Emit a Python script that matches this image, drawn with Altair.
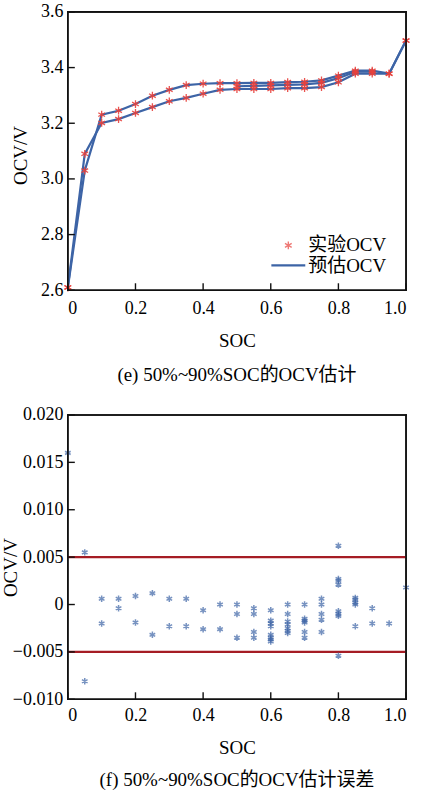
import altair as alt
import pandas as pd

# ---------------- data ----------------
soc = [0.0, 0.05, 0.1, 0.15, 0.2, 0.25, 0.3, 0.35, 0.4, 0.45, 0.5, 0.55, 0.6,
       0.65, 0.7, 0.75, 0.8, 0.85, 0.9, 0.95, 1.0]
ocv_upper = [2.61, 3.03, 3.231, 3.245, 3.269, 3.299, 3.320, 3.337, 3.342, 3.344,
             3.344, 3.345, 3.345, 3.348, 3.349, 3.354, 3.371, 3.389, 3.389, 3.378, 3.497]
ocv_lower = [2.61, 3.09, 3.201, 3.215, 3.237, 3.258, 3.279, 3.291, 3.306, 3.320,
             3.323, 3.323, 3.323, 3.326, 3.326, 3.330, 3.347, 3.378, 3.378, 3.378, 3.497]
soc_mid = [0.5, 0.55, 0.6, 0.65, 0.7, 0.75, 0.8, 0.85, 0.9]
ocv_mid = [3.333, 3.334, 3.336, 3.338, 3.340, 3.345, 3.362, 3.385, 3.385]

err_soc = [0.0,
           0.05, 0.05,
           0.1, 0.1,
           0.15, 0.15,
           0.2, 0.2,
           0.25, 0.25,
           0.3, 0.3,
           0.35, 0.35,
           0.4, 0.4,
           0.45, 0.45,
           0.5, 0.5, 0.5,
           0.55, 0.55, 0.55, 0.55,
           0.6, 0.6, 0.6, 0.6, 0.6, 0.6, 0.6, 0.6,
           0.65, 0.65, 0.65, 0.65, 0.65, 0.65, 0.65,
           0.7, 0.7, 0.7, 0.7, 0.7, 0.7,
           0.75, 0.75, 0.75, 0.75, 0.75,
           0.8, 0.8, 0.8, 0.8, 0.8, 0.8, 0.8, 0.8,
           0.85, 0.85, 0.85, 0.85, 0.85,
           0.9, 0.9,
           0.95,
           1.0]
err_val = [0.0160,
           0.0055, -0.0081,
           0.0006, -0.0020,
           0.0006, -0.0004,
           0.0009, -0.0019,
           0.0012, -0.0032,
           0.0006, -0.0023,
           0.0006, -0.0023,
           -0.0006, -0.0026,
           0.0000, -0.0026,
           0.0000, -0.0010, -0.0035,
           -0.0004, -0.0010, -0.0029, -0.0035,
           -0.0006, -0.0017, -0.0020, -0.0023, -0.0032, -0.0035, -0.0037, -0.0039,
           0.0000, -0.0010, -0.0018, -0.0021, -0.0025, -0.0028, -0.0030,
           0.0000, -0.0015, -0.0017, -0.0019, -0.0029, -0.0035,
           0.0006, 0.0000, -0.0010, -0.0016, -0.0029,
           0.0062, 0.0027, 0.0025, 0.0021, -0.0007, -0.0010, -0.0012, -0.0054,
           0.0007, 0.0005, 0.0002, 0.0000, -0.0023,
           -0.0004, -0.0020,
           -0.0020,
           0.0018]
err_limits = [0.005, -0.005]

x_ticks = [0.0, 0.2, 0.4, 0.6, 0.8, 1.0]
top_y_ticks = [2.6, 2.8, 3.0, 3.2, 3.4, 3.6]
bot_y_ticks = [-0.010, -0.005, 0.0, 0.005, 0.010, 0.015, 0.020]

# ---------------- style ----------------
FONT = "Times New Roman, Liberation Serif, Noto Sans CJK SC, serif"
RED = "#e8413c"
BLUE = "#3d64a6"
DARKRED = "#a51c24"
INK = "#111111"
STAR = "M0,-1L0,1M-0.87,-0.5L0.87,0.5M-0.87,0.5L0.87,-0.5"
W = 339
H1 = 279
H2 = 285
LBL = 18
TTL = 19
LW = 0.8  # half frame line thickness (px)

x_label_expr = "datum.value == 0 ? '0' : format(datum.value, '.1f')"


def frame_layers(h):
    """Plot frame drawn as four thin filled bars."""
    one = pd.DataFrame({"f": [0]})
    base = alt.Chart(one).mark_rect(color=INK)
    return [
        base.encode(x=alt.value(-LW), x2=alt.value(W + LW), y=alt.value(-LW), y2=alt.value(LW)),
        base.encode(x=alt.value(-LW), x2=alt.value(W + LW), y=alt.value(h - LW), y2=alt.value(h + LW)),
        base.encode(x=alt.value(-LW), x2=alt.value(LW), y=alt.value(-LW), y2=alt.value(h + LW)),
        base.encode(x=alt.value(W - LW), x2=alt.value(W + LW), y=alt.value(-LW), y2=alt.value(h + LW)),
    ]


def xtick_layer(xs, h):
    return alt.Chart(pd.DataFrame({"t": x_ticks})).mark_tick(
        orient="vertical", color=INK, thickness=1.4, size=7, opacity=1).encode(
        x=alt.X("t:Q", scale=xs), y=alt.value(h - 3.5))


def ytick_layer(ys, ticks):
    return alt.Chart(pd.DataFrame({"t": ticks})).mark_tick(
        orient="horizontal", color=INK, thickness=1.4, size=7, opacity=1).encode(
        y=alt.Y("t:Q", scale=ys), x=alt.value(3.5))


# ---------------- top panel ----------------
curves = pd.concat([
    pd.DataFrame({"soc": soc, "ocv": ocv_upper, "curve": "upper"}),
    pd.DataFrame({"soc": soc, "ocv": ocv_lower, "curve": "lower"}),
    pd.DataFrame({"soc": soc_mid, "ocv": ocv_mid, "curve": "mid"}),
])

xs_top = alt.Scale(domain=[0, 1], nice=False)
ys_top = alt.Scale(domain=[2.6, 3.6], nice=False)

x_top = alt.X("soc:Q", scale=xs_top,
              axis=alt.Axis(values=x_ticks, labelExpr=x_label_expr, title="SOC",
                            ticks=False, domain=False, grid=False, labelPadding=9,
                            titlePadding=14))
y_top = alt.Y("ocv:Q", scale=ys_top,
              axis=alt.Axis(values=top_y_ticks, format=".1f", title="OCV/V",
                            ticks=False, domain=False, grid=False, labelPadding=5,
                            titleX=-47, titleY=H1 / 2 + 4, titleAlign="center",
                            titleBaseline="middle", titleAngle=270))

lines = alt.Chart(curves).mark_line(color=BLUE, strokeWidth=2.2).encode(
    x=x_top, y=y_top, detail="curve:N", order="soc:Q")
stars = alt.Chart(curves).mark_point(shape=STAR, filled=False, color=RED,
                                     strokeWidth=1.3, size=60, opacity=0.9).encode(
    x=alt.X("soc:Q", scale=xs_top), y=alt.Y("ocv:Q", scale=ys_top))

leg_star = alt.Chart(pd.DataFrame({"label": ["实验OCV"]})).mark_point(
    shape=STAR, filled=False, color=RED, strokeWidth=1.4, size=60).encode(
    x=alt.value(221), y=alt.value(234))
leg_line = alt.Chart(pd.DataFrame({"label": ["预估OCV"]})).mark_rule(
    color=BLUE, strokeWidth=2.2).encode(x=alt.value(204), x2=alt.value(238), y=alt.value(254))
leg_t1 = alt.Chart(pd.DataFrame({"label": ["实验OCV"]})).mark_text(
    align="left", baseline="middle", font=FONT, fontSize=TTL, color="black").encode(
    x=alt.value(241), y=alt.value(234), text="label:N")
leg_t2 = alt.Chart(pd.DataFrame({"label": ["预估OCV"]})).mark_text(
    align="left", baseline="middle", font=FONT, fontSize=TTL, color="black").encode(
    x=alt.value(241), y=alt.value(255), text="label:N")

top = alt.layer(
    lines, stars,
    xtick_layer(xs_top, H1),
    ytick_layer(ys_top, top_y_ticks),
    *frame_layers(H1),
    leg_star, leg_line, leg_t1, leg_t2
).properties(
    width=W, height=H1,
    title=alt.TitleParams("(e) 50%~90%SOC的OCV估计", orient="bottom", font=FONT,
                          fontSize=TTL, fontWeight="normal", offset=16, color="black"))

# ---------------- bottom panel ----------------
err_df = pd.DataFrame({"soc": err_soc, "err": err_val})
xs_bot = alt.Scale(domain=[0, 1], nice=False)
ys_bot = alt.Scale(domain=[-0.010, 0.020], nice=False)

x_bot = alt.X("soc:Q", scale=xs_bot,
              axis=alt.Axis(values=x_ticks, labelExpr=x_label_expr, title="SOC",
                            ticks=False, domain=False, grid=False, labelPadding=7,
                            titlePadding=14))
y_bot = alt.Y("err:Q", scale=ys_bot,
              axis=alt.Axis(values=bot_y_ticks, title="OCV/V",
                            labelExpr="datum.value == 0 ? '0' : format(datum.value, '.3f')",
                            ticks=False, domain=False, grid=False, labelPadding=5,
                            titleX=-57, titleY=H2 / 2 + 10, titleAlign="center",
                            titleBaseline="middle", titleAngle=270))

lim_df = pd.DataFrame({"lim": err_limits, "x0": [0.0, 0.0], "x1": [1.0, 1.0]})
limits = alt.Chart(lim_df).mark_rule(color=DARKRED, strokeWidth=2.2).encode(
    x=alt.X("x0:Q", scale=xs_bot), x2="x1:Q", y=alt.Y("lim:Q", scale=ys_bot))
err_pts = alt.Chart(err_df).mark_point(shape=STAR, filled=False, color=BLUE,
                                       strokeWidth=1.5, size=42).encode(x=x_bot, y=y_bot)

bottom = alt.layer(
    limits, err_pts,
    xtick_layer(xs_bot, H2),
    ytick_layer(ys_bot, bot_y_ticks),
    *frame_layers(H2)
).properties(
    width=W, height=H2,
    title=alt.TitleParams("(f) 50%~90%SOC的OCV估计误差", orient="bottom", font=FONT,
                          fontSize=TTL, fontWeight="normal", offset=14, color="black"))

chart = alt.vconcat(top, bottom, spacing=19).properties(
    padding={"left": 1, "top": 1, "right": 12, "bottom": 5},
    background="white"
).configure_view(stroke=INK, strokeWidth=1.5).configure_axis(
    labelFont=FONT, labelFontSize=LBL, labelColor="black",
    titleFont=FONT, titleFontSize=TTL, titleFontWeight="normal", titleColor="black"
)

chart.save("out.html", embed_options={"renderer": "svg", "actions": False})
